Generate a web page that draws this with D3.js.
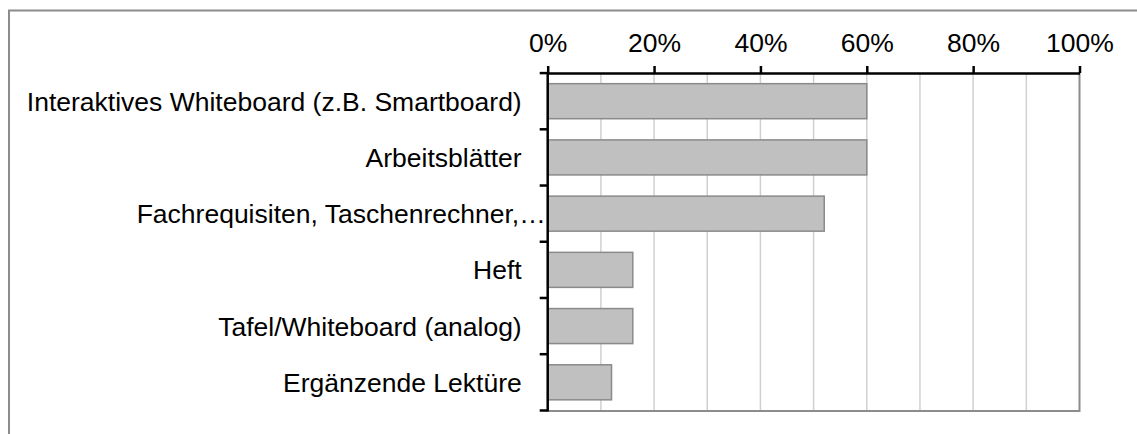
<!doctype html>
<html lang="de">
<head>
    <meta charset="utf-8">
    <title>Medien im Unterricht</title>
    <style type="text/css">
        html, body {
            margin: 0;
            padding: 0;
            width: 100%;
            height: 100%;
            background-color: #fff;
            overflow: hidden;
        }
        svg text {
            font-family: Arial, "Liberation Sans", sans-serif;
            fill: #000;
        }
    </style>
</head>
<body>
    <svg id="chart" width="1137" height="434"></svg>

    <script src="https://cdn.jsdelivr.net/npm/d3@7"></script>
    <script>
        const categories = [
            "Interaktives Whiteboard (z.B. Smartboard)",
            "Arbeitsblätter",
            "Fachrequisiten, Taschenrechner,…",
            "Heft",
            "Tafel/Whiteboard (analog)",
            "Ergänzende Lektüre"
        ];
        const values = [0.60, 0.60, 0.52, 0.16, 0.16, 0.12];
        const tickValues = [0, 0.2, 0.4, 0.6, 0.8, 1];
        const gridValues = [0.1, 0.2, 0.3, 0.4, 0.5, 0.6, 0.7, 0.8, 0.9];

        const svg = d3.select("#chart");
        const plotLeft = 547.7, plotRight = 1079.5, plotTop = 73, plotBottom = 410.5;
        const fontSize = 26.5;

        // outer frame, runs off the right and bottom edge
        svg.append("rect")
            .attr("x", 9).attr("y", 10.5)
            .attr("width", 1200).attr("height", 500)
            .attr("fill", "none")
            .attr("stroke", "#8c8c8c")
            .attr("stroke-width", 2);

        let x = d3.scaleLinear().domain([0, 1]).range([plotLeft, plotRight]);
        let y = d3.scaleBand().domain(categories).range([plotTop, plotBottom]).paddingInner(0.377).paddingOuter(0.19);

        // grid
        svg.append("g").selectAll("line")
            .data(gridValues)
            .join("line")
            .attr("x1", d => x(d)).attr("x2", d => x(d))
            .attr("y1", plotTop).attr("y2", plotBottom)
            .attr("stroke", "#d0d0d0")
            .attr("stroke-width", 1.5);

        // plot area right + bottom border
        svg.append("path")
            .attr("d", `M${plotLeft},${plotBottom + 0.5}H${plotRight}V${plotTop}`)
            .attr("fill", "none")
            .attr("stroke", "#8c8c8c")
            .attr("stroke-width", 2);

        // bars
        svg.append("g").selectAll("rect")
            .data(values)
            .join("rect")
            .attr("x", x(0))
            .attr("y", (d, i) => y(categories[i]))
            .attr("width", d => x(d) - x(0))
            .attr("height", y.bandwidth())
            .attr("fill", "#c0c0c0")
            .attr("stroke", "#8a8a8a")
            .attr("stroke-width", 1.5);

        // top axis
        let xAxis = svg.append("g")
            .attr("transform", `translate(0,${plotTop})`)
            .call(d3.axisTop(x).tickValues(tickValues).tickFormat(d3.format(".0%")).tickSize(7).tickPadding(14).tickSizeOuter(0));
        xAxis.select(".domain").attr("stroke", "#000").attr("stroke-width", 2.5);
        xAxis.selectAll(".tick line").attr("stroke", "#000").attr("stroke-width", 2.5);
        xAxis.selectAll("text").attr("font-size", fontSize).attr("font-family", "Arial, 'Liberation Sans', sans-serif");

        // left axis: labels at band centres
        let yAxis = svg.append("g")
            .attr("transform", `translate(${plotLeft},0)`)
            .call(d3.axisLeft(y).tickSize(0).tickPadding(26));
        yAxis.select(".domain").remove();
        yAxis.selectAll("text")
            .attr("font-size", fontSize)
            .attr("font-family", "Arial, 'Liberation Sans', sans-serif")
            .attr("dy", "0.36em")
            .filter(d => d === categories[2])
            .attr("x", -2);

        // left axis line with ticks between categories
        let bounds = categories.map(c => y(c) - y.step() * y.paddingInner() / 2);
        bounds.push(plotBottom);
        svg.append("line")
            .attr("x1", plotLeft).attr("x2", plotLeft)
            .attr("y1", plotTop - 1).attr("y2", plotBottom + 1)
            .attr("stroke", "#000").attr("stroke-width", 2.5);
        svg.append("g").selectAll("line")
            .data(bounds)
            .join("line")
            .attr("x1", plotLeft - 8).attr("x2", plotLeft)
            .attr("y1", d => d).attr("y2", d => d)
            .attr("stroke", "#000").attr("stroke-width", 2.5);
    </script>
</body>
</html>
